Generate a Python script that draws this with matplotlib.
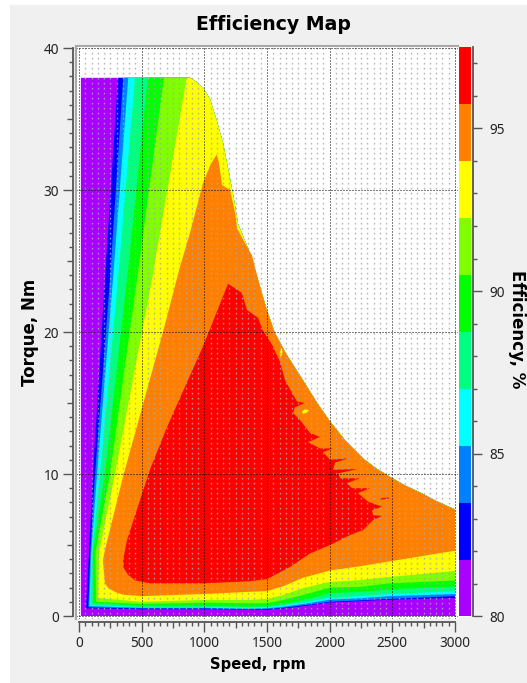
#!/usr/bin/env python3
import matplotlib
matplotlib.use('Agg')
import matplotlib.pyplot as plt
from matplotlib.patches import Rectangle

plt.rcParams['font.family'] = ['Noto Sans', 'DejaVu Sans']

W, H = 527, 683

# colour scale
levels = [80, 81.75, 83.5, 85.25, 87, 88.75, 90.5, 92.25, 94, 95.75, 97.5]
band_colors = ['#aa00ff', '#0000ff', '#0080ff', '#00ffff', '#00ff80',
               '#00ff00', '#80ff00', '#ffff00', '#ff8000', '#ff0000']

# torque limit of the machine
env_speed = [886, 940, 990, 1045, 1098, 1149, 1229, 1269, 1348, 1444, 1500, 1560, 1650, 1787, 1900, 2003,
             2130, 2266, 2370, 2481, 2600, 2721, 2850, 3000]
env_torque = [37.9, 37.6, 37.2, 36.4, 34.9, 33.3, 29.7, 27.6, 25.9, 23.2, 21.5, 20, 18.5, 16.6, 15.0, 13.7,
              12.3, 11.1, 10.4, 9.8, 9.2, 8.7, 8.1, 7.5]
orange_env_start = 9

# outer area, eff >= 80
purple_speed = [15, 15]
purple_torque = [0, 37.9]

# low speed edge of each band (bottom to top), torque values shared
left_torque = [4.5, 10, 23.7, 37.9]
blue_left = [80, 111, 207, 311]
azure_left = [90, 128, 247, 353]
cyan_left = [97, 144, 271, 393]
spring_left = [104, 168, 311, 447]
green_left = [112, 207, 383, 550]
chart_left = [132, 247, 463, 678]
yellow_left = [160, 287, 582, 859]

# corner of each band at low speed
corner_speed = [56, 74, 82, 93, 112, 136, 152]
corner_torque = [0.54, 0.61, 0.7, 0.77, 0.9, 1.0, 1.27]

# low torque edge of each band
bottom_speed = [500, 1000, 1350, 1500, 1630, 1790, 2000, 2240, 2480, 3000]
blue_bottom = [.48, .48, .45, .45, .53, .70, .95, 1.05, 1.15, 1.27]
azure_bottom = [.53, .53, .48, .50, .58, .75, 1.0, 1.1, 1.2, 1.4]
cyan_bottom = [.58, .58, .52, .55, .65, .85, 1.15, 1.25, 1.4, 1.55]
spring_bottom = [.63, .63, .60, .62, .75, .95, 1.3, 1.4, 1.55, 1.75]
green_bottom = [.72, .72, .66, .70, .85, 1.13, 1.6, 1.7, 1.85, 2.1]
chart_bottom = [.85, .94, .90, .90, 1.13, 1.48, 2.0, 2.05, 2.3, 2.5]
yellow_bottom = [1.0, 1.13, 1.13, 1.2, 1.48, 1.97, 2.4, 2.53, 2.75, 3.17]
orange_bottom = [1.4, 1.55, 1.7, 1.75, 2.1, 2.7, 3.2, 3.5, 3.85, 4.6]

# orange island, from low speed corner round the peak to the torque limit
orange_speed = [350, 287, 235, 207, 191, 207, 351, 670, 806, 886, 990, 1050, 1098, 1117, 1141, 1205, 1245, 1261, 1340, 1380]
orange_torque = [1.5, 1.7, 1.95, 2.3, 3.9, 4.65, 9.8, 20, 24.6, 27, 30.5, 31.8, 32.5, 31.9, 30.35, 30, 28.4, 27.3, 26, 25.4]

# best efficiency area
red_speed = [566, 450, 391, 355, 351, 383, 566, 702, 990, 1189, 1300, 1340, 1428, 1468, 1540, 1604, 1644, 1739, 1803,
             1723, 1708, 1763, 1843, 1923, 1827, 1923, 2027, 1947, 2003, 2146, 2043, 2027, 2226, 2067, 2083,
             2242, 2138, 2178, 2322, 2226, 2306, 2418, 2338, 2346, 2418, 2346, 2266, 2162, 2003, 1843, 1683,
             1500, 1364, 990]
red_torque = [2.3, 2.5, 2.9, 3.4, 3.9, 5.35, 10.3, 13.3, 19, 23.4, 22.75, 21.55, 21, 20.1, 19.1, 17.9, 16.6, 15.1, 15,
              14.7, 14.3, 13.8, 12.9, 12.6, 12.25, 11.8, 11.8, 11.55, 11, 11.1, 10.8, 10.3, 10.35, 10.05, 9.7,
              9.7, 9.35, 9, 9, 8.65, 8.05, 7.7, 7.45, 7.1, 7.05, 6.75, 6.05, 5.7, 5.0, 4.4, 3.45,
              2.6, 2.45, 2.3]

# small spots
speck_speed = [1780, 1800, 1835, 1815, 1785]
speck_torque = [14.4, 14.55, 14.5, 14.3, 14.25]
speck2_speed = [1600, 1615, 1625, 1610]
speck2_torque = [18.5, 18.9, 18.6, 18.2]
red_spot_speed = [2400, 2470, 2470, 2400]
red_spot_torque = [8.3, 8.35, 8.25, 8.2]

x_major = [0, 500, 1000, 1500, 2000, 2500, 3000]
y_major = [0, 10, 20, 30, 40]
cb_major = [80, 85, 90, 95]


def px_axes(fig, left, top, right, bottom):
    return fig.add_axes([left / W, 1 - bottom / H, (right - left) / W, (bottom - top) / H])


def band_polygon(left_x, bottom_y, corner_x, corner_y):
    # left edge going up, then the torque limit, then back along the bottom
    xs = [corner_x] + left_x + env_speed + bottom_speed[::-1]
    ys = [corner_y] + left_torque + env_torque + bottom_y[::-1]
    return xs, ys


fig = plt.figure(figsize=(W / 100, H / 100), dpi=100, facecolor='white')
fig.patches.append(Rectangle((10 / W, 0), 1, 1 - 5 / H, transform=fig.transFigure,
                             facecolor='#f0f0f0', edgecolor='none', zorder=-10))

# 79 px = 0 rpm, 455 px = 3000 rpm, 616 px = 0 Nm, 48 px = 40 Nm
ax = px_axes(fig, 76, 46, 457.5, 619)
ax.set_xlim((76 - 79) * 3000 / 376, (457.5 - 79) * 3000 / 376)
ax.set_ylim((616 - 619) * 40 / 568, (616 - 46) * 40 / 568)
ax.set_facecolor('white')

# outer purple area
ax.fill(purple_speed + env_speed + [3000], purple_torque + env_torque + [0],
        color=band_colors[0], lw=0, zorder=1)

bands = [(blue_left, blue_bottom), (azure_left, azure_bottom), (cyan_left, cyan_bottom),
         (spring_left, spring_bottom), (green_left, green_bottom), (chart_left, chart_bottom),
         (yellow_left, yellow_bottom)]
for i, (left, bottom) in enumerate(bands):
    xs, ys = band_polygon(left, bottom, corner_speed[i], corner_torque[i])
    ax.fill(xs, ys, color=band_colors[i + 1], lw=0, zorder=1.1 + i * 0.1)

ax.fill(orange_speed + env_speed[orange_env_start:] + bottom_speed[::-1],
        orange_torque + env_torque[orange_env_start:] + orange_bottom[::-1],
        color=band_colors[8], lw=0, zorder=1.8)
ax.fill(red_speed, red_torque, color=band_colors[9], lw=0, zorder=1.9)
ax.fill(speck_speed, speck_torque, color=band_colors[7], lw=0, zorder=2)
ax.fill(speck2_speed, speck2_torque, color=band_colors[7], lw=0, zorder=2)
ax.fill(red_spot_speed, red_spot_torque, color=band_colors[9], lw=0, zorder=2)

# grid on top of the map
ax.set_xticks(x_major)
ax.set_yticks(y_major)
ax.set_xticks([v for v in range(0, 3001, 50) if v % 500], minor=True)
ax.set_yticks([v for v in range(0, 41) if v % 10], minor=True)
ax.set_axisbelow(False)
ax.grid(True, which='major', color='black', lw=0.72, linestyle=(0, (1, 2)))
ax.grid(True, which='minor', axis='x', color='#a8a8a8', alpha=0.85, lw=1.0, linestyle=(0, (1.2, 2.4)))

axis_color = '#555555'
ax.spines['top'].set_color('#a8a8a8')
ax.spines['top'].set_linewidth(1.5)
ax.spines['right'].set_color('white')
ax.plot([0, 0], [0, 1], transform=ax.transAxes, clip_on=False, color='#a8a8a8', lw=1.5, zorder=30)
ax.spines['left'].set_position(('outward', 2.2))
ax.spines['bottom'].set_position(('outward', 2.2))
ax.spines['left'].set_bounds(0, 40)
ax.spines['bottom'].set_bounds(0, 3000)
for name in ['left', 'bottom']:
    ax.spines[name].set_color(axis_color)
    ax.spines[name].set_linewidth(1.3)
ax.tick_params(which='major', length=7, width=1, color=axis_color, labelsize=9.8,
               labelcolor='#222222', pad=3)
ax.tick_params(which='minor', length=2.6, width=1, color=axis_color)

# in-between ticks every 250 rpm and 5 Nm are longer
for tick, v in zip(ax.xaxis.get_minor_ticks(), ax.xaxis.get_minorticklocs()):
    if v % 250 == 0:
        tick.tick1line.set_markersize(4.6)
for tick, v in zip(ax.yaxis.get_minor_ticks(), ax.yaxis.get_minorticklocs()):
    if v % 5 == 0:
        tick.tick1line.set_markersize(4.6)

# colour bar
cax = px_axes(fig, 459, 47, 471, 616.5)
cax.bar(0, [levels[i + 1] - levels[i] for i in range(len(band_colors))], bottom=levels[:-1],
        width=1, color=band_colors, lw=0)
cax.set_xlim(-0.5, 0.5)
cax.set_ylim(levels[0], levels[-1])
cax.set_xticks([])
cax.yaxis.tick_right()
cax.set_yticks(cb_major)
cax.set_yticks([v for v in range(81, 98) if v not in cb_major], minor=True)
for name in ['top', 'left', 'bottom']:
    cax.spines[name].set_visible(False)
cax.spines['right'].set_position(('outward', 1.5))
cax.spines['right'].set_color(axis_color)
cax.spines['right'].set_linewidth(1.3)
cax.tick_params(which='major', length=6.4, width=1, color=axis_color, labelsize=9.8,
                labelcolor='#222222', pad=5)
cax.tick_params(which='minor', length=2.8, width=1, color=axis_color)

# titles
bold = ['DejaVu Sans']
fig.text(273 / W, 1 - 25 / H, 'Efficiency Map', ha='center', va='center', fontsize=13.6, fontweight='bold', family=bold)
fig.text(258 / W, 1 - 664 / H, 'Speed, rpm', ha='center', va='center', fontsize=10.6, fontweight='bold', family=bold)
fig.text(30 / W, 1 - 332 / H, 'Torque, Nm', ha='center', va='center', rotation=90, fontsize=12, fontweight='bold', family=bold)
fig.text(517 / W, 1 - 329 / H, 'Efficiency, %', ha='center', va='center', rotation=270, fontsize=12, fontweight='bold', family=bold)

fig.savefig('out.png', dpi=100, facecolor=fig.get_facecolor())
